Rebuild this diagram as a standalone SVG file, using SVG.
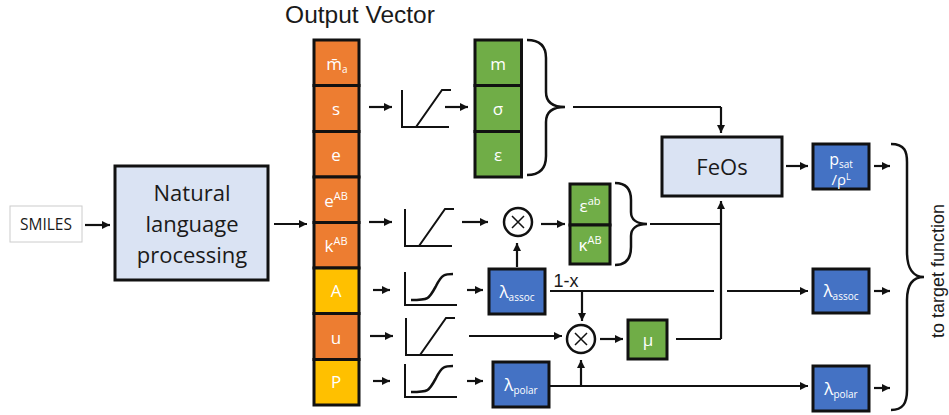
<svg xmlns="http://www.w3.org/2000/svg" width="949" height="415" viewBox="0 0 949 415">
<style>
text{font-family:"Open Sans","Noto Sans",sans-serif;text-anchor:middle}
.w{fill:#fff;font-size:17px}
.k{fill:#1a1a1a}
.ar{font-family:"Liberation Sans",sans-serif}
.b{stroke:#111;stroke-width:3}
.or{fill:#ed7d31}.ye{fill:#ffc000}.gr{fill:#70ad47}.bl{fill:#4472c4}.lb{fill:#dae3f3}
.c{fill:none;stroke:#111;stroke-width:2.2}
.a{fill:none;stroke:#111;stroke-width:2.2;marker-end:url(#ah)}
.br{fill:none;stroke:#111;stroke-width:2.5}
.ic{fill:none;stroke:#111;stroke-width:2}
</style>
<defs>
<marker id="ah" markerUnits="userSpaceOnUse" markerWidth="9" markerHeight="10" refX="8" refY="5" orient="auto"><path d="M0 1L8 5L0 9z" fill="#111"/></marker>
<g id="ramp"><path class="ic" d="M0 0V37H47M14 37L40 0H49"/></g>
<g id="sig"><path class="ic" d="M0 0V33H52"/><path class="ic" d="M6 28C24 28 24 27 31 14C37 2 40 2 48 2" style="stroke-width:2.6"/></g>
</defs>

<text x="360" y="23" font-size="24.500" class="k ar">Output Vector</text>

<g id="connectors">
<path class="a" d="M85 225H110"/>
<path class="a" d="M274 224H307"/>
<path class="a" d="M369 107H392"/>
<path class="a" d="M445 107H468"/>
<path class="c" d="M573 107H721"/>
<path class="a" d="M721 107V133"/>
<path class="a" d="M369 222H392"/>
<path class="a" d="M462 222H488"/>
<path class="a" d="M541 224H565"/>
<path class="a" d="M517 267V243"/>
<path class="c" d="M650 224H721"/>
<path class="c" d="M676 339H721"/>
<path class="a" d="M721 339V201"/>
<path class="a" d="M373 290H390"/>
<path class="a" d="M467 290H483"/>
<path class="c" d="M550 291H714"/>
<path class="a" d="M727 291H808"/>
<path class="a" d="M582 291V321"/>
<path class="a" d="M370 336H393"/>
<path class="a" d="M469 336H562"/>
<path class="a" d="M600 339H623"/>
<path class="a" d="M373 381H390"/>
<path class="a" d="M467 381H483"/>
<path class="a" d="M549 386H808"/>
<path class="a" d="M581 386V360"/>
<path class="a" d="M786 166H808"/>
<path class="a" d="M874 166H890"/>
<path class="a" d="M874 291H890"/>
<path class="a" d="M874 388H890"/>
<path class="br" d="M527 40C540 40 546 46 546 58V92C546 102 552 107 565 107C552 107 546 112 546 122V156C546 168 540 175 527 175"/>
<path class="br" d="M615 183C627 183 631 190 631 200V212C631 219 636 224 647 224C636 224 631 229 631 236V247C631 258 627 265 615 265"/>
<path class="br" d="M891 144C905 144 907 152 907 162V252C907 268 913 277 924 277C913 277 907 285 907 300V390C907 403 903 410 891 410"/>
<use href="#ramp" x="402" y="90"/>
<use href="#ramp" x="405" y="209"/>
<use href="#sig" x="405" y="272"/>
<use href="#ramp" x="406" y="318"/>
<use href="#sig" x="405" y="364"/>
</g>

<g id="smiles"><rect x="10" y="206" width="72" height="36" fill="#fff" stroke="#ccc" stroke-width="1"/><text x="46" y="230" font-size="15.500" class="k">SMILES</text></g>
<g id="nlp"><rect x="115" y="166" width="153" height="114" class="lb b"/>
<text x="192" y="201" font-size="22" class="k">Natural</text><text x="192" y="232" font-size="22" class="k">language</text><text x="192" y="263" font-size="22" class="k">processing</text></g>

<g id="output-vector">
<rect x="314" y="40" width="45" height="45.500" class="or b"/>
<rect x="314" y="85.500" width="45" height="46" class="or b"/>
<rect x="314" y="131.500" width="45" height="45.500" class="or b"/>
<rect x="314" y="177" width="45" height="45.500" class="or b"/>
<rect x="314" y="222.500" width="45" height="45.500" class="or b"/>
<rect x="314" y="268" width="45" height="45.500" class="ye b"/>
<rect x="314" y="313.500" width="45" height="46" class="or b"/>
<rect x="314" y="359.500" width="45" height="45.500" class="ye b"/>
<text x="337" y="70" class="w">m̄<tspan font-size="10" dy="3">a</tspan></text>
<text x="336" y="115" class="w">s</text>
<text x="336" y="161" class="w">e</text>
<text x="336" y="207" class="w">e<tspan font-size="11" dy="-7">AB</tspan></text>
<text x="336" y="252" class="w">k<tspan font-size="11" dy="-7">AB</tspan></text>
<text x="336" y="297" class="w">A</text>
<text x="336" y="344" class="w">u</text>
<text x="336" y="388" class="w">P</text>
</g>

<g id="m"><rect x="475" y="40" width="46.500" height="45.500" class="gr b"/><text x="498" y="70" class="w">m</text></g>
<g id="sigma"><rect x="475" y="85.500" width="46.500" height="46" class="gr b"/><text x="498" y="115" class="w">σ</text></g>
<g id="epsilon"><rect x="475" y="131.500" width="46.500" height="45.500" class="gr b"/><text x="498" y="161" class="w">ε</text></g>
<g id="epsilon-ab"><rect x="570" y="184" width="40" height="41" class="gr b"/><text x="590" y="212" class="w">ε<tspan font-size="11" dy="-7">ab</tspan></text></g>
<g id="kappa-ab"><rect x="570" y="225" width="40" height="39" class="gr b"/><text x="590" y="251" class="w">κ<tspan font-size="11" dy="-7">AB</tspan></text></g>

<g id="mul1"><circle cx="518" cy="222" r="14" fill="#fff" stroke="#111" stroke-width="2.500"/><path class="c" d="M512 216L524 228M524 216L512 228" style="stroke-width:1.500"/></g>
<g id="mul2"><circle cx="581" cy="339" r="14" fill="#fff" stroke="#111" stroke-width="2.500"/><path class="c" d="M575 333L587 345M587 333L575 345" style="stroke-width:1.500"/></g>

<g id="lambda-assoc"><rect x="489" y="269" width="56" height="45" class="bl b"/><text x="517" y="298" class="w">λ<tspan font-size="10" dy="3">assoc</tspan></text></g>
<g id="lambda-polar"><rect x="493" y="362" width="56" height="45" class="bl b"/><text x="521" y="391" class="w">λ<tspan font-size="10" dy="3">polar</tspan></text></g>
<text x="566" y="287" font-size="18" class="k ar">1-x</text>
<g id="mu"><rect x="628" y="320" width="39" height="39" class="gr b"/><text x="648" y="346" class="w">μ</text></g>
<g id="feos"><rect x="662" y="137" width="120" height="59" class="lb b"/><text x="722" y="175" font-size="22" class="k">FeOs</text></g>
<g id="psat"><rect x="813" y="144" width="56" height="45" class="bl b"/><text x="841" y="165" class="w" style="font-size:16px">p<tspan font-size="10" dy="3">sat</tspan></text><text x="841" y="185" class="w" style="font-size:15px">/ρ<tspan font-size="9" dy="-5">L</tspan></text></g>
<g id="lambda-assoc-out"><rect x="813" y="269" width="56" height="44" class="bl b"/><text x="841" y="297" class="w">λ<tspan font-size="10" dy="3">assoc</tspan></text></g>
<g id="lambda-polar-out"><rect x="813" y="366" width="56" height="45" class="bl b"/><text x="841" y="395" class="w">λ<tspan font-size="10" dy="3">polar</tspan></text></g>
<text transform="translate(944 271) rotate(-90)" font-size="18" class="k ar">to target function</text>
</svg>
